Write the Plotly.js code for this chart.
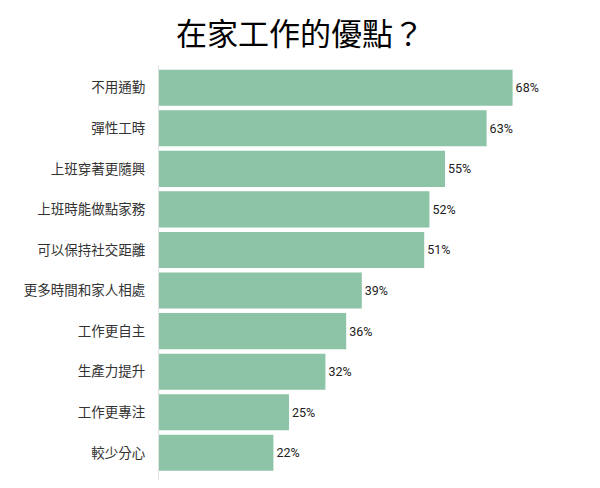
<!DOCTYPE html>
<html>
<head>
<meta charset="utf-8">
<script src="https://cdn.plot.ly/plotly-3.0.1.min.js"></script>
<style>
  html, body { margin: 0; padding: 0; background: #fff; }
  #chart { width: 600px; height: 488px; }
</style>
</head>
<body>
<div id="chart"></div>
<script>
// data, top to bottom as in the picture
const categories = [
    "不用通勤",
    "彈性工時",
    "上班穿著更隨興",
    "上班時能做點家務",
    "可以保持社交距離",
    "更多時間和家人相處",
    "工作更自主",
    "生產力提升",
    "工作更專注",
    "較少分心"
];

const shares = [68, 63, 55, 52, 51, 39, 36, 32, 25, 22];

const labelFont = "'Noto Sans CJK TC', 'Noto Sans', sans-serif";

const traces = [];

traces.push({
    type: "bar",
    orientation: "h",
    y: categories,
    x: shares,
    marker: { color: "#8dc3a7" },
    text: shares.map(v => v + "%"),
    textposition: "outside",
    textfont: { family: "Roboto, 'Noto Sans', sans-serif", size: 12.5, color: "#222" },
    cliponaxis: false,
    hoverinfo: "skip"
});

Plotly.newPlot(
    "chart",
    traces,
    {
        width: 600,
        height: 488,
        margin: { l: 159, r: 25, t: 65, b: 8 },
        paper_bgcolor: "#fff",
        plot_bgcolor: "#fff",
        bargap: 0.11,
        showlegend: false,
        title: {
            text: "在家工作的優點？",
            font: { family: labelFont, size: 31, color: "#000" },
            x: 0.5,
            xref: "container",
            xanchor: "center",
            y: 1 - 34 / 488,
            yref: "container",
            yanchor: "middle"
        },
        xaxis: {
            range: [0, 80],
            visible: false,
            fixedrange: true
        },
        yaxis: {
            type: "category",
            range: [9.67, -0.56],
            showline: true,
            linecolor: "#e3e3e3",
            linewidth: 1,
            showgrid: false,
            ticks: "",
            ticklen: 0,
            ticklabelstandoff: 10,
            tickfont: { family: labelFont, size: 13.5, color: "#333" },
            fixedrange: true
        }
    },
    { displayModeBar: false, staticPlot: true }
);
</script>
</body>
</html>
